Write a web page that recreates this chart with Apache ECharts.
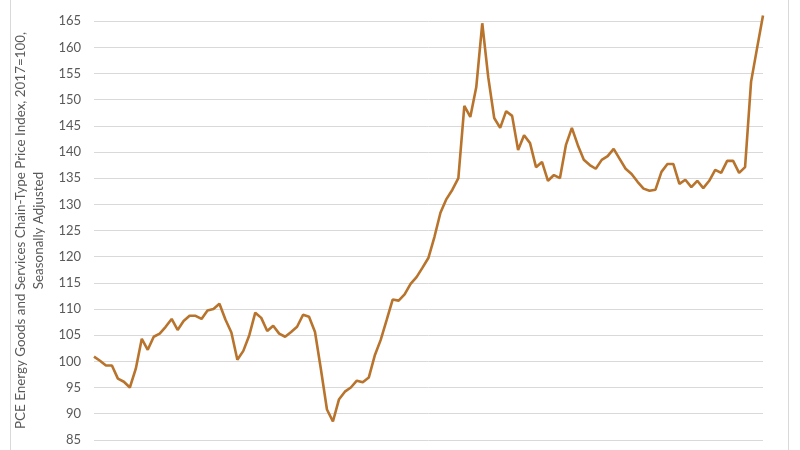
<!DOCTYPE html>
<html>
<head>
<meta charset="utf-8">
<script src="https://cdn.jsdelivr.net/npm/echarts@6/dist/echarts.min.js"></script>
<style>html,body{margin:0;padding:0;background:#fff;}#c{width:800px;height:450px;}</style>
</head>
<body>
<div id="c"></div>
<script>
// Monthly PCE Energy Goods and Services price index (2017=100)
const values = [
  100.9,100.1,99.2,99.2,96.7,96.1,95.0,98.6,104.3,102.2,104.7,105.3,
  106.6,108.1,106.0,107.7,108.7,108.7,108.1,109.7,110.0,111.0,108.0,105.5,
  100.3,102.0,105.0,109.3,108.3,105.8,106.8,105.3,104.7,105.6,106.6,108.9,
  108.5,105.6,98.4,90.8,88.5,92.7,94.2,95.0,96.3,96.0,96.9,101.1,
  104.1,107.9,111.8,111.6,112.8,114.8,116.1,117.9,119.8,123.8,128.4,131.0,
  132.8,135.0,148.8,146.7,152.4,164.6,154.3,146.5,144.6,147.8,146.9,140.4,
  143.2,141.7,137.1,138.1,134.5,135.6,135.0,141.3,144.6,141.3,138.5,137.5,
  136.8,138.5,139.2,140.6,138.7,136.8,135.8,134.3,133.0,132.6,132.8,136.2,
  137.7,137.7,133.9,134.7,133.3,134.5,133.1,134.5,136.6,136.0,138.3,138.3,
  136.0,137.1,153.4,159.8,166.1
];
const categories = values.map((v, i) => {
  const y = 2017 + Math.floor(i / 12);
  const m = (i % 12) + 1;
  return y + '-' + (m < 10 ? '0' + m : m);
});
const yTitle = 'PCE Energy Goods and Services Chain-Type Price Index, 2017=100,\nSeasonally Adjusted';

const chart = echarts.init(document.getElementById('c'), null, {renderer: 'canvas'});
chart.setOption({
  animation: false,
  backgroundColor: '#ffffff',
  grid: {left: 94, right: 37, top: -5, bottom: -16, containLabel: false, outerBoundsMode: 'none'},
  xAxis: {
    type: 'category',
    data: categories,
    boundaryGap: false,
    axisLine: {show: false},
    axisTick: {show: false},
    axisLabel: {show: false},
    splitLine: {show: false}
  },
  yAxis: {
    type: 'value',
    min: 80,
    max: 170,
    interval: 5,
    name: yTitle,
    nameLocation: 'middle',
    nameRotate: 90,
    nameGap: 46,
    nameTextStyle: {fontFamily: 'Lato', fontSize: 13.4, color: '#595959', lineHeight: 18, align: 'center'},
    axisLine: {show: false},
    axisTick: {show: false},
    axisLabel: {fontFamily: 'Lato', fontSize: 13, color: '#595959', margin: 13},
    splitLine: {lineStyle: {color: '#d9d9d9', width: 1}}
  },
  series: [{
    type: 'line',
    data: values,
    showSymbol: false,
    smooth: false,
    lineStyle: {color: '#b8732c', width: 2.6},
    itemStyle: {color: '#b8732c'}
  }],
  graphic: [
    {type: 'line', shape: {x1: 10.5, y1: 0, x2: 10.5, y2: 450}, style: {stroke: '#d9d9d9', lineWidth: 1}},
    {type: 'line', shape: {x1: 788.5, y1: 0, x2: 788.5, y2: 450}, style: {stroke: '#d9d9d9', lineWidth: 1}}
  ]
});
</script>
</body>
</html>
